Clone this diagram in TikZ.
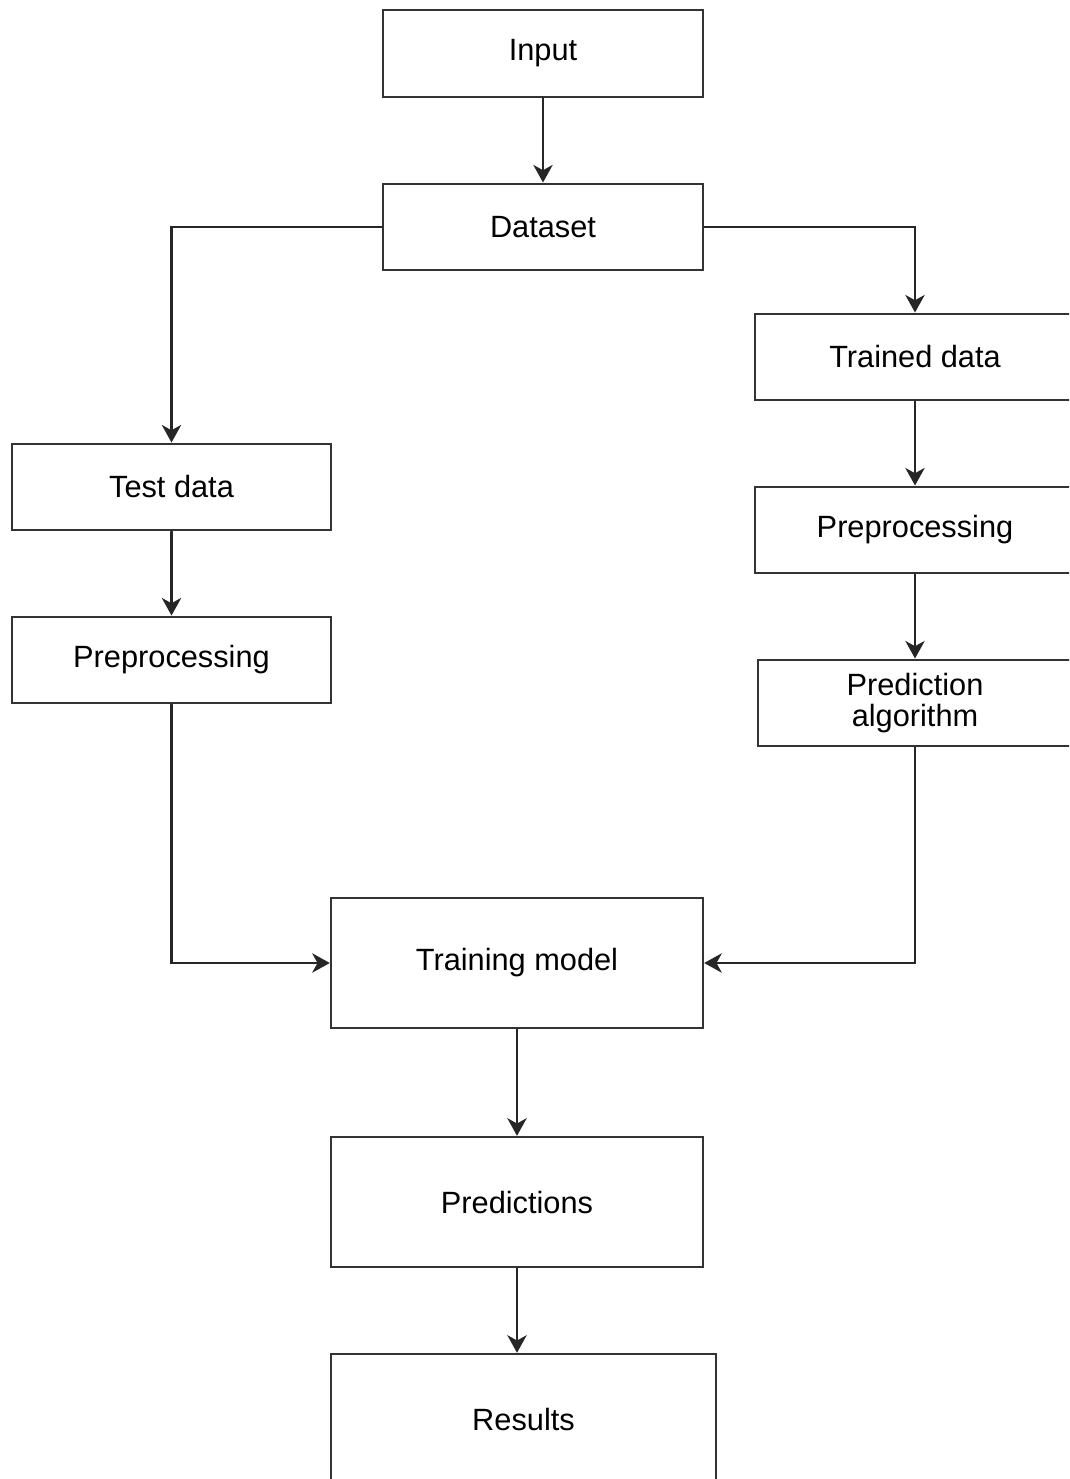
\documentclass[tikz,border=0pt]{standalone}
\usepackage{fontspec}
\setmainfont{Liberation Sans}
\usepackage{tikz}
\usetikzlibrary{arrows.meta}

\begin{document}
\begin{tikzpicture}
		[x=0.02cm,y=-0.02cm,line cap=round,
		%Styles
		block/.style={draw=black!80,line width=1.4pt,fill=white,inner sep=2pt,
			minimum width=6.4cm,minimum height=1.73cm,align=center,
			font=\fontsize{17.5}{17.5}\selectfont},
		tall block/.style={block,minimum height=2.6cm},
		flow/.style={draw=black!85,line width=1.4pt,-{Stealth[length=10pt,width=11pt,inset=3pt]}}
		]
		
		%Page
		\useasboundingbox (0,0) rectangle (1069,1479);
		\clip (0,0) rectangle (1069,1479);
		
		%The graphic
		\node[block] (input) at (543,53.5) {Input};
		\node[block] (dataset) at (543,227) {Dataset};
		
		\node[block] (trained) at (915,357) {Trained data};
		\node[block] (prepright) at (915,530) {Preprocessing};
		\node[block,minimum width=6.28cm] (algo) at (915,703) {Prediction\\algorithm};
		
		\node[block,minimum width=6.38cm] (test) at (171.5,487) {Test data};
		\node[block,minimum width=6.38cm] (prepleft) at (171.5,660) {Preprocessing};
		
		\node[tall block,minimum width=7.44cm] (model) at (517,963) {Training model};
		\node[tall block,minimum width=7.44cm] (predictions) at (517,1202) {Predictions};
		\node[tall block,minimum width=7.7cm] (results) at (523.5,1419) {Results};
		
		%Connectors
		\draw[flow] (input) -- (dataset);
		\draw[flow] (dataset.west) -| (test.north);
		\draw[flow] (dataset.east) -| (trained.north);
		\draw[flow] (trained) -- (prepright);
		\draw[flow] (prepright) -- (algo);
		\draw[flow] (test) -- (prepleft);
		\draw[flow] (prepleft.south) |- (model.west);
		\draw[flow] (algo.south) |- (model.east);
		\draw[flow] (model) -- (predictions);
		\draw[flow] (predictions.south) -- (predictions.south |- results.north);
	\end{tikzpicture}
\end{document}
